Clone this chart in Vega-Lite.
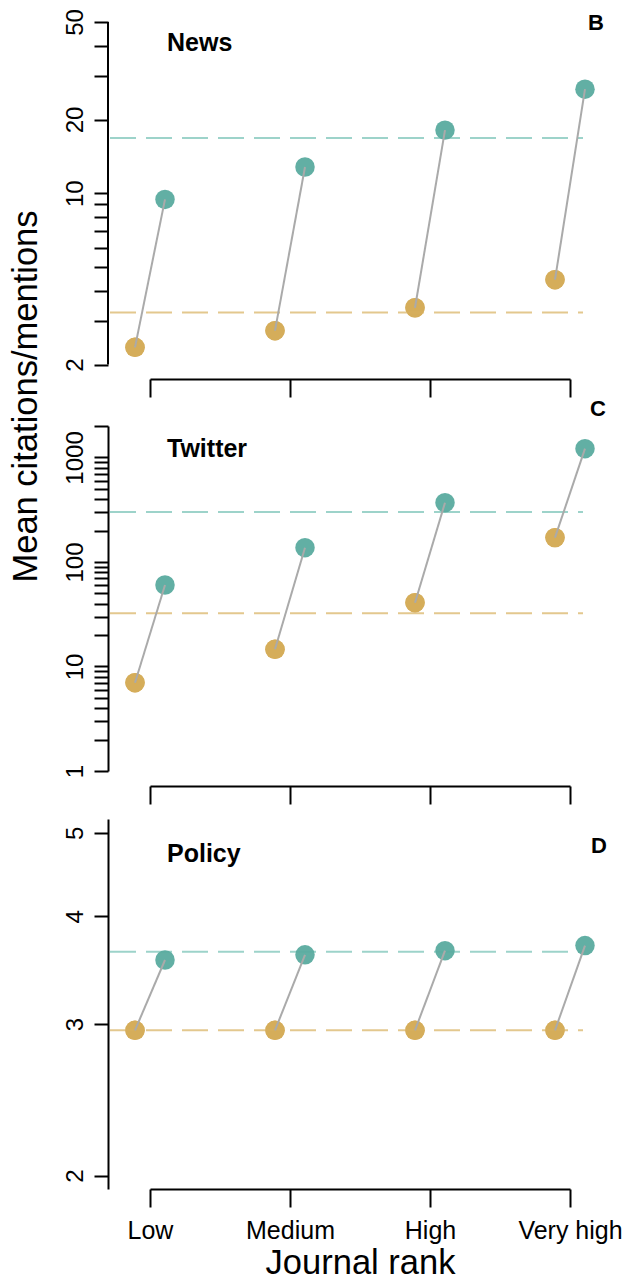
{
  "$schema": "https://vega.github.io/schema/vega-lite/v6.json",
  "padding": {"top": 8, "left": 8, "right": 0, "bottom": 0},
  "background": "white",
  "datasets": {
    "points": [
      {"panel": "News", "rank": "Low", "comparison": 2.35, "focal": 9.44},
      {"panel": "News", "rank": "Medium", "comparison": 2.75, "focal": 12.8},
      {"panel": "News", "rank": "High", "comparison": 3.41, "focal": 18.1},
      {"panel": "News", "rank": "Very high", "comparison": 4.44, "focal": 26.6},
      {"panel": "Twitter", "rank": "Low", "comparison": 7.0, "focal": 60.2},
      {"panel": "Twitter", "rank": "Medium", "comparison": 14.6, "focal": 137},
      {"panel": "Twitter", "rank": "High", "comparison": 40.8, "focal": 369},
      {"panel": "Twitter", "rank": "Very high", "comparison": 171, "focal": 1214},
      {"panel": "Policy", "rank": "Low", "comparison": 2.95, "focal": 3.56},
      {"panel": "Policy", "rank": "Medium", "comparison": 2.95, "focal": 3.61},
      {"panel": "Policy", "rank": "High", "comparison": 2.95, "focal": 3.65},
      {"panel": "Policy", "rank": "Very high", "comparison": 2.95, "focal": 3.70}
    ],
    "means": [
      {"panel": "News", "letter": "B", "comparison": 3.26, "focal": 16.8},
      {"panel": "Twitter", "letter": "C", "comparison": 32.3, "focal": 301},
      {"panel": "Policy", "letter": "D", "comparison": 2.95, "focal": 3.64}
    ]
  },
  "spacing": 48,
  "bounds": "flush",
  "vconcat": [
    {
      "width": 420,
      "height": 356,
      "data": {"name": "means"},
      "transform": [{"filter": "datum.panel == 'News'"}],
      "layer": [
        {
          "data": {"name": "points"},
          "transform": [{"filter": "datum.panel == 'News'"}],
          "mark": {"type": "circle", "xOffset": -15, "size": 380, "color": "#d5ad5a", "opacity": 0.95},
          "encoding": {
            "x": {"field": "rank", "type": "ordinal", "scale": {"type": "point", "domain": ["Low", "Medium", "High", "Very high"], "padding": 0},
                  "axis": {"title": null, "labels": false, "offset": 1, "tickSize": 18}},
            "y": {"field": "comparison", "type": "quantitative", "scale": {"type": "log", "domain": [1.762, 50], "nice": false},
                  "axis": {"title": "Mean citations/mentions", "titleX": -72, "titleY": 374, "titleAngle": -90, "titleAlign": "center", "titleBaseline": "alphabetic",
                           "domain": false, "offset": 42, "tickSize": 14, "values": [2, 3, 4, 5, 6, 7, 8, 9, 10, 20, 30, 40, 50],
                           "labelExpr": "(datum.value == 2 || datum.value == 10 || datum.value == 20 || datum.value == 50) ? '' + datum.value : ''"}}
          }
        },
        {
          "mark": {"type": "rule", "xOffset": -40, "x2Offset": 13, "strokeDash": [26, 10], "strokeWidth": 2, "color": "#9dd3ca"},
          "encoding": {
            "x": {"datum": "Low", "type": "ordinal"},
            "x2": {"datum": "Very high"},
            "y": {"field": "focal", "type": "quantitative", "scale": {"type": "log", "domain": [1.762, 50], "nice": false}}
          }
        },
        {
          "mark": {"type": "rule", "xOffset": -40, "x2Offset": 13, "strokeDash": [26, 10], "strokeWidth": 2, "color": "#e3c88e"},
          "encoding": {
            "x": {"datum": "Low", "type": "ordinal"},
            "x2": {"datum": "Very high"},
            "y": {"field": "comparison", "type": "quantitative", "scale": {"type": "log", "domain": [1.762, 50], "nice": false}}
          }
        },
        {
          "data": {"name": "points"},
          "transform": [{"filter": "datum.panel == 'News'"}],
          "mark": {"type": "circle", "xOffset": -15, "size": 380, "color": "#d5ad5a", "opacity": 0.95},
          "encoding": {
            "x": {"field": "rank", "type": "ordinal"},
            "y": {"field": "comparison", "type": "quantitative", "scale": {"type": "log", "domain": [1.762, 50], "nice": false}}
          }
        },
        {
          "data": {"name": "points"},
          "transform": [{"filter": "datum.panel == 'News'"}],
          "mark": {"type": "circle", "xOffset": 15, "size": 380, "color": "#5aab9f", "opacity": 0.95},
          "encoding": {
            "x": {"field": "rank", "type": "ordinal"},
            "y": {"field": "focal", "type": "quantitative", "scale": {"type": "log", "domain": [1.762, 50], "nice": false}}
          }
        },
        {
          "data": {"name": "points"},
          "transform": [{"filter": "datum.panel == 'News'"}],
          "mark": {"type": "rule", "xOffset": -15, "x2Offset": 15, "color": "#aaaaaa", "strokeWidth": 2},
          "encoding": {
            "x": {"field": "rank", "type": "ordinal"},
            "x2": {"field": "rank"},
            "y": {"field": "comparison", "type": "quantitative", "scale": {"type": "log", "domain": [1.762, 50], "nice": false}},
            "y2": {"field": "focal"}
          }
        },
        {
          "mark": {"type": "rule", "xOffset": -42, "color": "black", "strokeWidth": 2},
          "encoding": {
            "x": {"datum": "Low", "type": "ordinal"},
            "y": {"datum": 2, "type": "quantitative"},
            "y2": {"datum": 50}
          }
        },
        {
          "mark": {"type": "text", "align": "left", "baseline": "middle", "xOffset": 17, "fontSize": 25, "fontWeight": "bold", "color": "black"},
          "encoding": {
            "text": {"field": "panel"},
            "x": {"datum": "Low", "type": "ordinal"},
            "y": {"datum": 41, "type": "quantitative"}
          }
        },
        {
          "mark": {"type": "text", "align": "center", "baseline": "middle", "xOffset": 26, "fontSize": 22, "fontWeight": "bold", "color": "black"},
          "encoding": {
            "text": {"field": "letter"},
            "x": {"datum": "Very high", "type": "ordinal"},
            "y": {"datum": 49.4, "type": "quantitative"}
          }
        }
      ]
    },
    {
      "width": 420,
      "height": 345,
      "data": {"name": "means"},
      "transform": [{"filter": "datum.panel == 'Twitter'"}],
      "layer": [
        {
          "data": {"name": "points"},
          "transform": [{"filter": "datum.panel == 'Twitter'"}],
          "mark": {"type": "circle", "xOffset": -15, "size": 380, "color": "#d5ad5a", "opacity": 0.95},
          "encoding": {
            "x": {"field": "rank", "type": "ordinal", "scale": {"type": "point", "domain": ["Low", "Medium", "High", "Very high"], "padding": 0},
                  "axis": {"title": null, "labels": false, "offset": 15, "tickSize": 18}},
            "y": {"field": "comparison", "type": "quantitative", "scale": {"type": "log", "domain": [1, 2000], "nice": false},
                  "axis": {"title": null, "offset": 42, "tickSize": 14,
                           "values": [1, 2, 3, 4, 5, 6, 7, 8, 9, 10, 20, 30, 40, 50, 60, 70, 80, 90, 100, 200, 300, 400, 500, 600, 700, 800, 900, 1000, 2000],
                           "labelExpr": "(datum.value == 1 || datum.value == 10 || datum.value == 100 || datum.value == 1000) ? '' + datum.value : ''"}}
          }
        },
        {
          "mark": {"type": "rule", "xOffset": -40, "x2Offset": 13, "strokeDash": [26, 10], "strokeWidth": 2, "color": "#9dd3ca"},
          "encoding": {
            "x": {"datum": "Low", "type": "ordinal"},
            "x2": {"datum": "Very high"},
            "y": {"field": "focal", "type": "quantitative", "scale": {"type": "log", "domain": [1, 2000], "nice": false}}
          }
        },
        {
          "mark": {"type": "rule", "xOffset": -40, "x2Offset": 13, "strokeDash": [26, 10], "strokeWidth": 2, "color": "#e3c88e"},
          "encoding": {
            "x": {"datum": "Low", "type": "ordinal"},
            "x2": {"datum": "Very high"},
            "y": {"field": "comparison", "type": "quantitative", "scale": {"type": "log", "domain": [1, 2000], "nice": false}}
          }
        },
        {
          "data": {"name": "points"},
          "transform": [{"filter": "datum.panel == 'Twitter'"}],
          "mark": {"type": "circle", "xOffset": -15, "size": 380, "color": "#d5ad5a", "opacity": 0.95},
          "encoding": {
            "x": {"field": "rank", "type": "ordinal"},
            "y": {"field": "comparison", "type": "quantitative", "scale": {"type": "log", "domain": [1, 2000], "nice": false}}
          }
        },
        {
          "data": {"name": "points"},
          "transform": [{"filter": "datum.panel == 'Twitter'"}],
          "mark": {"type": "circle", "xOffset": 15, "size": 380, "color": "#5aab9f", "opacity": 0.95},
          "encoding": {
            "x": {"field": "rank", "type": "ordinal"},
            "y": {"field": "focal", "type": "quantitative", "scale": {"type": "log", "domain": [1, 2000], "nice": false}}
          }
        },
        {
          "data": {"name": "points"},
          "transform": [{"filter": "datum.panel == 'Twitter'"}],
          "mark": {"type": "rule", "xOffset": -15, "x2Offset": 15, "color": "#aaaaaa", "strokeWidth": 2},
          "encoding": {
            "x": {"field": "rank", "type": "ordinal"},
            "x2": {"field": "rank"},
            "y": {"field": "comparison", "type": "quantitative", "scale": {"type": "log", "domain": [1, 2000], "nice": false}},
            "y2": {"field": "focal"}
          }
        },
        {
          "mark": {"type": "text", "align": "left", "baseline": "middle", "xOffset": 17, "fontSize": 25, "fontWeight": "bold", "color": "black"},
          "encoding": {
            "text": {"field": "panel"},
            "x": {"datum": "Low", "type": "ordinal"},
            "y": {"datum": 1218, "type": "quantitative"}
          }
        },
        {
          "mark": {"type": "text", "align": "center", "baseline": "middle", "xOffset": 28, "fontSize": 22, "fontWeight": "bold", "color": "black"},
          "encoding": {
            "text": {"field": "letter"},
            "x": {"datum": "Very high", "type": "ordinal"},
            "y": {"datum": 2940, "type": "quantitative"}
          }
        }
      ]
    },
    {
      "width": 420,
      "height": 370,
      "data": {"name": "means"},
      "transform": [{"filter": "datum.panel == 'Policy'"}],
      "layer": [
        {
          "data": {"name": "points"},
          "transform": [{"filter": "datum.panel == 'Policy'"}],
          "mark": {"type": "circle", "xOffset": -15, "size": 380, "color": "#d5ad5a", "opacity": 0.95},
          "encoding": {
            "x": {"field": "rank", "type": "ordinal", "scale": {"type": "point", "domain": ["Low", "Medium", "High", "Very high"], "padding": 0},
                  "axis": {"title": "Journal rank", "titleY": 57, "titleBaseline": "top", "labels": true, "labelAngle": 0, "labelFontSize": 25, "labelPadding": 11, "offset": 0, "tickSize": 18}},
            "y": {"field": "comparison", "type": "quantitative", "scale": {"type": "log", "domain": [1.93, 5.19], "nice": false},
                  "axis": {"title": null, "offset": 42, "tickSize": 14, "values": [2, 3, 4, 5], "labelExpr": "'' + datum.value"}}
          }
        },
        {
          "mark": {"type": "rule", "xOffset": -40, "x2Offset": 13, "strokeDash": [26, 10], "strokeWidth": 2, "color": "#9dd3ca"},
          "encoding": {
            "x": {"datum": "Low", "type": "ordinal"},
            "x2": {"datum": "Very high"},
            "y": {"field": "focal", "type": "quantitative", "scale": {"type": "log", "domain": [1.93, 5.19], "nice": false}}
          }
        },
        {
          "mark": {"type": "rule", "xOffset": -40, "x2Offset": 13, "strokeDash": [26, 10], "strokeWidth": 2, "color": "#e3c88e"},
          "encoding": {
            "x": {"datum": "Low", "type": "ordinal"},
            "x2": {"datum": "Very high"},
            "y": {"field": "comparison", "type": "quantitative", "scale": {"type": "log", "domain": [1.93, 5.19], "nice": false}}
          }
        },
        {
          "data": {"name": "points"},
          "transform": [{"filter": "datum.panel == 'Policy'"}],
          "mark": {"type": "circle", "xOffset": -15, "size": 380, "color": "#d5ad5a", "opacity": 0.95},
          "encoding": {
            "x": {"field": "rank", "type": "ordinal"},
            "y": {"field": "comparison", "type": "quantitative", "scale": {"type": "log", "domain": [1.93, 5.19], "nice": false}}
          }
        },
        {
          "data": {"name": "points"},
          "transform": [{"filter": "datum.panel == 'Policy'"}],
          "mark": {"type": "circle", "xOffset": 15, "size": 380, "color": "#5aab9f", "opacity": 0.95},
          "encoding": {
            "x": {"field": "rank", "type": "ordinal"},
            "y": {"field": "focal", "type": "quantitative", "scale": {"type": "log", "domain": [1.93, 5.19], "nice": false}}
          }
        },
        {
          "data": {"name": "points"},
          "transform": [{"filter": "datum.panel == 'Policy'"}],
          "mark": {"type": "rule", "xOffset": -15, "x2Offset": 15, "color": "#aaaaaa", "strokeWidth": 2},
          "encoding": {
            "x": {"field": "rank", "type": "ordinal"},
            "x2": {"field": "rank"},
            "y": {"field": "comparison", "type": "quantitative", "scale": {"type": "log", "domain": [1.93, 5.19], "nice": false}},
            "y2": {"field": "focal"}
          }
        },
        {
          "mark": {"type": "text", "align": "left", "baseline": "middle", "xOffset": 17, "fontSize": 25, "fontWeight": "bold", "color": "black"},
          "encoding": {
            "text": {"field": "panel"},
            "x": {"datum": "Low", "type": "ordinal"},
            "y": {"datum": 4.73, "type": "quantitative"}
          }
        },
        {
          "mark": {"type": "text", "align": "center", "baseline": "middle", "xOffset": 29, "fontSize": 22, "fontWeight": "bold", "color": "black"},
          "encoding": {
            "text": {"field": "letter"},
            "x": {"datum": "Very high", "type": "ordinal"},
            "y": {"datum": 4.83, "type": "quantitative"}
          }
        }
      ]
    }
  ],
  "config": {
    "font": "Liberation Sans",
    "view": {"stroke": null},
    "axis": {
      "grid": false,
      "domainColor": "black",
      "domainWidth": 2,
      "tickColor": "black",
      "tickWidth": 2,
      "labelColor": "black",
      "labelFont": "Liberation Sans",
      "labelFontSize": 24,
      "titleColor": "black",
      "titleFont": "Liberation Sans",
      "titleFontSize": 34.5,
      "titleFontWeight": "normal",
      "labelOverlap": false,
      "labelFlush": false,
      "labelBound": false
    },
    "axisLeft": {
      "labelAngle": -90,
      "labelAlign": "center",
      "labelBaseline": "alphabetic",
      "labelPadding": 12
    }
  }
}
